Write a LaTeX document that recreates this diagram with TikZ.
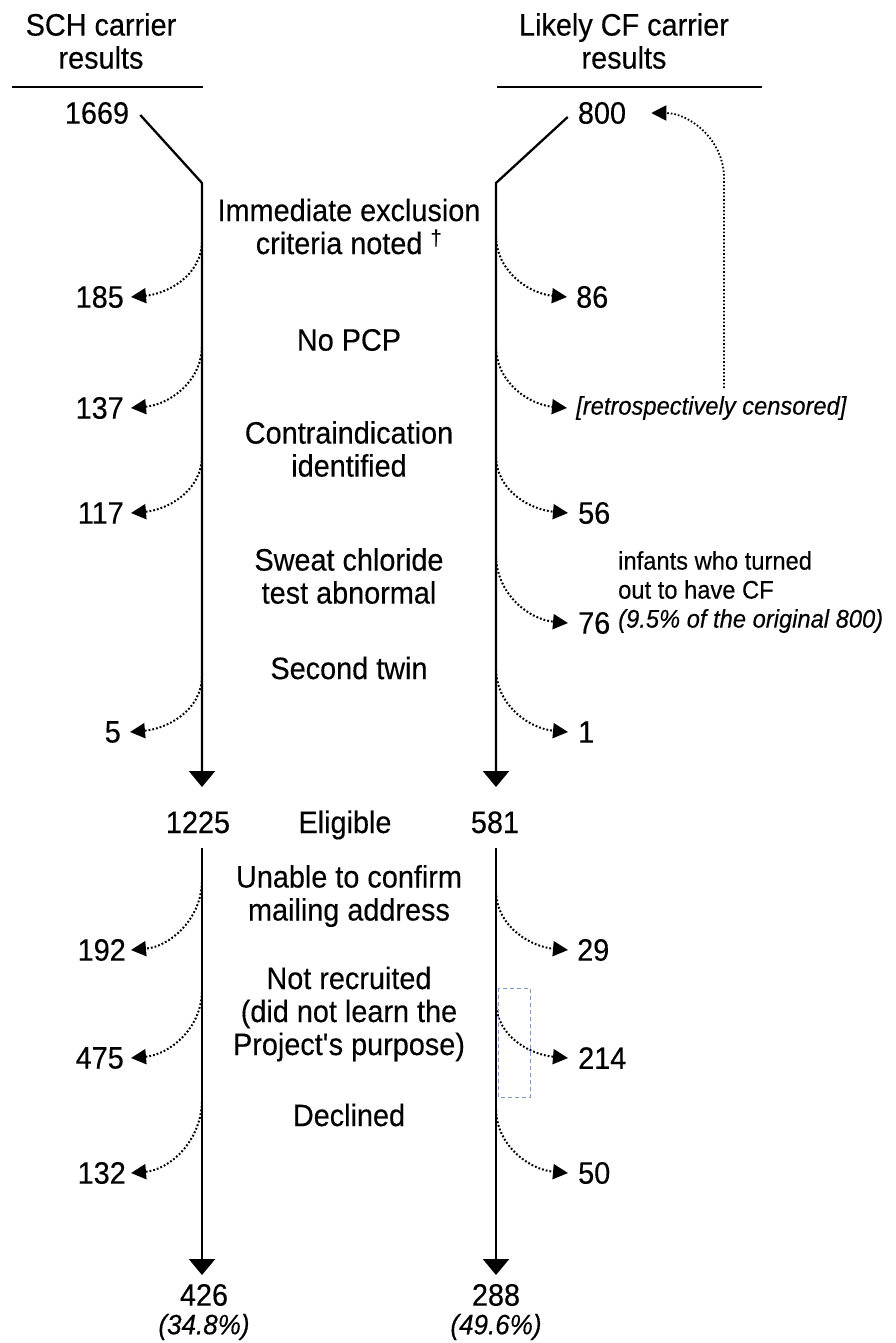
\documentclass[tikz,border=0pt]{standalone}
\usepackage{fontspec}
\setmainfont{Liberation Sans}[FakeStretch=0.93,FakeBold=0.3]
\usetikzlibrary{arrows.meta}
\definecolor{boxblue}{RGB}{125,155,200}
\begin{document}
\begin{tikzpicture}[x=1pt,y=-1pt,
  txt/.style={font=\fontsize{31}{33}\selectfont, inner sep=0pt, align=center},
  smalltxt/.style={font=\fontsize{25.5}{29}\selectfont, inner sep=0pt, align=left},
  pct/.style={font=\fontsize{28}{30}\selectfont\itshape, inner sep=0pt},
  rule/.style={line width=1.8pt},
  mainarrow/.style={line width=2.3pt, -{Triangle[length=16pt,width=26pt]}},
  side/.style={line width=2pt, dash pattern=on 1.8pt off 2pt, -{Triangle[length=15pt,width=15pt]}},
  loopline/.style={line width=1.8pt, dash pattern=on 1.6pt off 2pt, -{Triangle[length=15pt,width=15pt]}},
  hlbox/.style={draw=boxblue, line width=1pt, dash pattern=on 4pt off 3pt}]
\useasboundingbox (0,0) rectangle (895,1343);

% headers
\node[txt] (hL) at (101,41) {SCH carrier\\results};
\node[txt] (hR) at (624,41) {Likely CF carrier\\results};
\draw[rule] (12,87) -- (203,87);
\draw[rule] (497,87) -- (762,87);

% top numbers
\node[txt] (n1669) at (97,113) {1669};
\node[txt] (n800) at (602,113) {800};

% centre labels
\node[txt] (c1) at (349,226.5) {Immediate exclusion\\criteria noted \textsuperscript{†}};
\node[txt] (c2) at (349,340) {No PCP};
\node[txt] (c3) at (349,449) {Contraindication\\identified};
\node[txt] (c4) at (349,576) {Sweat chloride\\test abnormal};
\node[txt] (c5) at (349,668) {Second twin};
\node[txt, anchor=base] (elig) at (345,833) {Eligible};
\node[txt] (c6) at (349,896) {Unable to confirm\\mailing address};
\node[txt] (c7) at (349,1014) {Not recruited\\(did not learn the\\Project\textquotesingle s purpose)};
\node[txt] (c8) at (349,1115) {Declined};

% middle and bottom numbers
\node[txt, anchor=base] (n1225) at (198,833) {1225};
\node[txt, anchor=base] (n581) at (495,833) {581};
\node[txt] (n426) at (204,1295) {426};
\node[pct] (p426) at (204,1327) {(34.8\%)};
\node[txt] (n288) at (496,1295) {288};
\node[pct] (p288) at (496,1327) {(49.6\%)};

% main flow lines
\coordinate (Lbend) at (202,183);
\coordinate (Rbend) at (496,183);
\coordinate (Ltip1) at (202,787);
\coordinate (Rtip1) at (496,787);
\coordinate (Ltop2) at (202,848);
\coordinate (Rtop2) at (496,848);
\coordinate (Ltip2) at (202,1275);
\coordinate (Rtip2) at (496,1275);
\draw[mainarrow] ([shift={(11,2)}]n1669.east) -- (Lbend) -- (Ltip1);
\draw[mainarrow] ([shift={(-10,4)}]n800.west) -- (Rbend) -- (Rtip1);
\draw[mainarrow] (Ltop2) -- (Ltip2);
\draw[mainarrow] (Rtop2) -- (Rtip2);

% left exclusions
\node[txt, anchor=east] (l185) at (124,297) {185};
\node[txt, anchor=east] (l137) at (124,408) {137};
\node[txt, anchor=east] (l117) at (124,513) {117};
\node[txt, anchor=east] (l5) at (121,732) {5};
\node[txt, anchor=east] (l192) at (126,950) {192};
\node[txt, anchor=east] (l475) at (124,1058) {475};
\node[txt, anchor=east] (l132) at (126,1173) {132};
\coordinate (La1) at (202,242);
\coordinate (La2) at (202,347);
\coordinate (La3) at (202,457);
\coordinate (La4) at (202,677);
\coordinate (La5) at (202,882);
\coordinate (La6) at (202,992);
\coordinate (La7) at (202,1102);
\draw[side] (La1) to[out=-92,in=5] ([xshift=7pt]l185.east);
\draw[side] (La2) to[out=-92,in=5] ([xshift=7pt]l137.east);
\draw[side] (La3) to[out=-92,in=5] ([xshift=7pt]l117.east);
\draw[side] (La4) to[out=-92,in=5] ([xshift=9pt]l5.east);
\draw[side] (La5) to[out=-92,in=5] ([xshift=5pt]l192.east);
\draw[side] (La6) to[out=-92,in=5] ([xshift=7pt]l475.east);
\draw[side] (La7) to[out=-92,in=5] ([xshift=5pt]l132.east);

% right exclusions
\node[txt, anchor=west] (r86) at (576,297) {86};
\node[smalltxt, font=\fontsize{25.5}{29}\selectfont\itshape, anchor=west] (rretro) at (576,408) {[retrospectively censored]};
\node[txt, anchor=west] (r56) at (578,513) {56};
\node[txt, anchor=west] (r76) at (578,623) {76};
\node[txt, anchor=west] (r1) at (578,732) {1};
\node[txt, anchor=west] (r29) at (577,950) {29};
\node[txt, anchor=west] (r214) at (578,1058) {214};
\node[txt, anchor=west] (r50) at (578,1173) {50};
\node[smalltxt, anchor=west] (rinf) at (618,575) {infants who turned\\out to have CF};
\node[smalltxt, font=\fontsize{25.5}{29}\selectfont\itshape, anchor=west] (rpct) at (618,621) {(9.5\% of the original 800)};
\coordinate (Ra1) at (496,237);
\coordinate (Ra2) at (496,348);
\coordinate (Ra3) at (496,457);
\coordinate (Ra4) at (496,557);
\coordinate (Ra5) at (496,670);
\coordinate (Ra6) at (496,892);
\coordinate (Ra7) at (496,1003);
\coordinate (Ra8) at (496,1110);
\draw[side] (Ra1) to[out=-88,in=175] ([xshift=-9pt]r86.west);
\draw[side] (Ra2) to[out=-88,in=175] ([xshift=-9pt]rretro.west);
\draw[side] (Ra3) to[out=-88,in=175] ([xshift=-10pt]r56.west);
\draw[side] (Ra4) to[out=-88,in=175] ([xshift=-10pt]r76.west);
\draw[side] (Ra5) to[out=-88,in=175] ([xshift=-10pt]r1.west);
\draw[side] (Ra6) to[out=-88,in=175] ([xshift=-9pt]r29.west);
\draw[side] (Ra7) to[out=-88,in=175] ([xshift=-10pt]r214.west);
\draw[side] (Ra8) to[out=-88,in=175] ([xshift=-10pt]r50.west);

% loop back to 800
\coordinate (loopstart) at (724,388);
\coordinate (loopturn) at (724,178);
\draw[loopline] (loopstart) -- (loopturn) to[out=90,in=0] ([xshift=25pt]n800.east);

% highlight box
\draw[hlbox] (498,988) rectangle (530,1097);
\end{tikzpicture}
\end{document}
